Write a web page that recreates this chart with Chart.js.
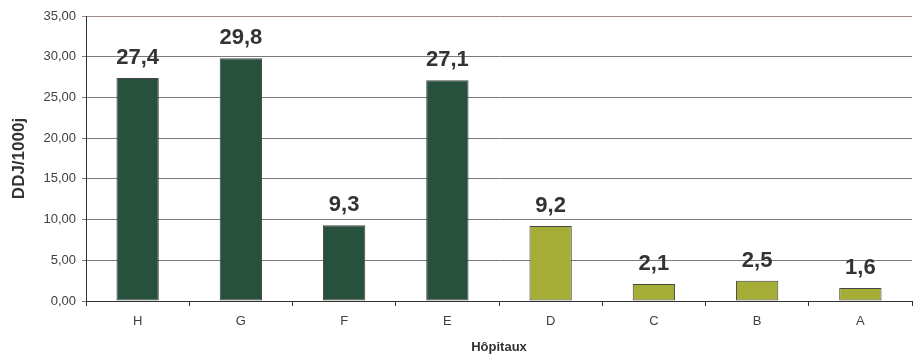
<!DOCTYPE html>
<html>
<head>
<meta charset="utf-8">
<script src="https://cdn.jsdelivr.net/npm/chart.js@4/dist/chart.umd.min.js"></script>
<style>
  html, body { margin: 0; padding: 0; background: #fff; }
  #wrap { width: 913px; height: 359px; }
</style>
</head>
<body>
<div id="wrap"><canvas id="barChart" width="913" height="359"></canvas></div>
<script>
let hopitaux = ['H', 'G', 'F', 'E', 'D', 'C', 'B', 'A'];
let ddj = [27.4, 29.8, 9.3, 27.1, 9.2, 2.1, 2.5, 1.6];
let barColors = ['#27503d', '#27503d', '#27503d', '#27503d', '#a6ad37', '#a6ad37', '#a6ad37', '#a6ad37'];

const fontFamily = '"Liberation Sans", Arial, sans-serif';

// labels above each bar, French decimal comma
const valueLabels = {
    id: 'valueLabels',
    afterDatasetsDraw(chart) {
        const ctx = chart.ctx;
        const meta = chart.getDatasetMeta(0);
        ctx.save();
        ctx.font = 'bold 22px ' + fontFamily;
        ctx.fillStyle = '#333333';
        ctx.textAlign = 'center';
        ctx.textBaseline = 'alphabetic';
        meta.data.forEach(function (bar, i) {
            let txt = ddj[i].toFixed(1).replace('.', ',');
            ctx.fillText(txt, bar.x, bar.y - 14);
        });
        ctx.restore();
    }
};

function buildGraph() {
    const chart = document.getElementById('barChart');
    let barChart = new Chart(chart, {
        type: 'bar',
        data: {
            labels: hopitaux,
            datasets: [{
                data: ddj,
                backgroundColor: barColors,
                borderColor: '#454545',
                borderWidth: 1,
                borderSkipped: false,
                categoryPercentage: 1,
                barPercentage: 0.41
            }]
        },
        options: {
            responsive: false,
            animation: false,
            layout: { padding: { top: 16, right: 1, left: 0, bottom: 0 } },
            plugins: {
                legend: { display: false },
                tooltip: { enabled: false }
            },
            scales: {
                x: {
                    afterFit: function (scale) { scale.height = 58; },
                    grid: {
                        offset: true,
                        drawOnChartArea: false,
                        drawTicks: true,
                        tickLength: 5,
                        color: '#333333'
                    },
                    border: { color: '#333333', width: 1 },
                    ticks: {
                        padding: 8,
                        color: '#404040',
                        font: { family: fontFamily, size: 13 }
                    },
                    title: {
                        display: true,
                        text: 'Hôpitaux',
                        color: '#333333',
                        padding: { top: 0, bottom: 4 },
                        font: { family: fontFamily, size: 13, weight: 'bold' }
                    }
                },
                y: {
                    min: 0,
                    max: 35,
                    afterFit: function (scale) { scale.width = 86; },
                    grid: {
                        color: function (c) { return c.tick && c.tick.value === 35 ? '#9c8a84' : '#7a7a7a'; },
                        lineWidth: 1,
                        tickLength: 4,
                        drawTicks: true
                    },
                    border: { color: '#333333', width: 1 },
                    ticks: {
                        stepSize: 5,
                        padding: 6,
                        color: '#404040',
                        font: { family: fontFamily, size: 13 },
                        callback: function (v) { return v.toFixed(2).replace('.', ','); }
                    },
                    title: {
                        display: true,
                        text: 'DDJ/1000j',
                        color: '#333333',
                        padding: { top: 9, bottom: 0 },
                        font: { family: fontFamily, size: 17, weight: 'bold' }
                    }
                }
            }
        },
        plugins: [valueLabels]
    });
}

buildGraph();
</script>
</body>
</html>
